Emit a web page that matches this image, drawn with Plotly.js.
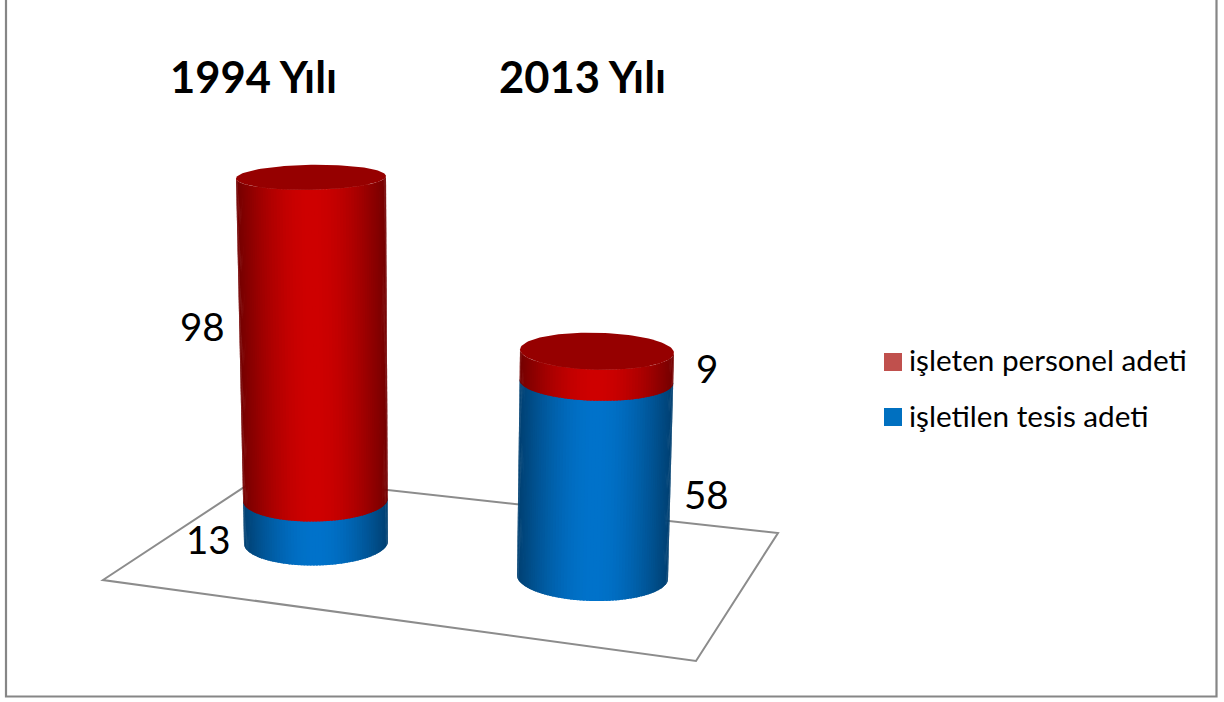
<!DOCTYPE html>
<html><head><meta charset="utf-8">
<script src="https://cdn.plot.ly/plotly-3.0.1.min.js"></script>
<style>html,body{margin:0;padding:0;background:#fff;overflow:hidden}#chart{width:1224px;height:702px}</style>
</head><body><div id="chart"></div>
<script>
// ---- data ----
const years = ["1994 Yılı", "2013 Yılı"];
const seriesNames = ["işletilen tesis adeti", "işleten personel adeti"];
const tesisValues = [13, 58];
const personelValues = [98, 9];

// ---- look of the chart ----
const W = 1224, H = 702;
const sideRGB = [[0, 114, 202], [206, 0, 0]];
const legendColors = ["#0070C0", "#C0504D"];
const capColor = "#960000";
const FONT = "Lato, Carlito, sans-serif";
// cylinder geometry in pixels: the value axis of each cylinder has its own px-per-unit scale (perspective)
const cyl = [
  {axis: "y",  yref: "y",  basePx: 542.5, pxPerUnit: 3.29, cxB: 316,   rB: 72,   cxT: 311, rT: 75, kB: 23, kT: 12.5, tilt: -1.2},
  {axis: "y2", yref: "y2", basePx: 577,   pxPerUnit: 3.37, cxB: 592.5, rB: 75.5, cxT: 597, rT: 77, kB: 24, kT: 18.5, tilt: 1.7}
];
const labelStyle = [
  [{x: 233, anchor: "right", shift: -18}, {x: 227, anchor: "right", shift: 13}],
  [{x: 682, anchor: "left", shift: -15}, {x: 694, anchor: "left", shift: -2}]
];

const traces = [];
const annotations = [];
const STEPS = 72;
const shade = (u, rgb) => {
  const f = 0.56 + 0.44 * Math.max(0, Math.cos(u * Math.PI / 2));
  return "rgb(" + rgb.map(c => Math.round(c * f)).join(",") + ")";
};

years.forEach((yr, i) => {
  const c = cyl[i];
  const vals = [tesisValues[i], personelValues[i]];
  const total = vals[0] + vals[1];
  const toAxis = px => (c.basePx - px) / c.pxPerUnit;
  const cx = v => c.cxB + (c.cxT - c.cxB) * v / total;
  const r = v => c.rB + (c.rT - c.rB) * v / total;
  const k = v => c.kB + (c.kT - c.kB) * v / total;
  const pt = (v, th) => {
    const u = Math.sin(th);
    return [cx(v) + r(v) * u, toAxis(c.basePx - c.pxPerUnit * v + k(v) * Math.cos(th) + c.tilt * u)];
  };
  let start = 0;
  vals.forEach((val, s) => {
    // the plain stacked bar, carrying the value through the axis
    traces.push({type: "bar", x: [c.cxB + (c.cxT - c.cxB) / 2], y: [val], base: [start], width: [110],
      yaxis: c.axis, name: seriesNames[s], showlegend: false, hoverinfo: "skip",
      marker: {color: legendColors[s], line: {width: 0}}});
    // round, shaded side of the bar
    const lo = start, hi = start + val + (s === 0 ? 0.4 : 0);
    for (let j = 0; j < STEPS; j++) {
      const t1 = -Math.PI / 2 + Math.PI * j / STEPS;
      const t2 = -Math.PI / 2 + Math.PI * Math.min(j + 1.6, STEPS) / STEPS;
      const tm = -Math.PI / 2 + Math.PI * (j + 0.5) / STEPS;
      const a = pt(lo, t1), b = pt(lo, t2), d = pt(hi, t2), e = pt(hi, t1);
      traces.push({type: "scatter", mode: "lines", fill: "toself", yaxis: c.axis, hoverinfo: "skip", showlegend: false,
        x: [a[0], b[0], d[0], e[0], a[0]], y: [a[1], b[1], d[1], e[1], a[1]],
        line: {width: 0}, fillcolor: shade(Math.sin(tm), sideRGB[s])});
    }
    const ls = labelStyle[i][s];
    annotations.push({xref: "x", yref: c.yref, x: ls.x, y: start + val / 2, yshift: ls.shift,
      text: String(val), showarrow: false, xanchor: ls.anchor, yanchor: "middle",
      font: {family: FONT, size: 38.5, color: "#000"}});
    start += val;
  });
  // top cap
  const cxs = [], cys = [];
  for (let j = 0; j <= 120; j++) {
    const th = 2 * Math.PI * j / 120;
    const p = pt(total, th);
    cxs.push(p[0]); cys.push(p[1]);
  }
  traces.push({type: "scatter", mode: "lines", fill: "toself", yaxis: c.axis, hoverinfo: "skip", showlegend: false,
    x: cxs, y: cys, line: {width: 0}, fillcolor: capColor});
});

// year headings
const headingPx = [[253.5, 76], [582.5, 76]];
years.forEach((yr, i) => annotations.push({xref: "paper", yref: "paper",
  x: headingPx[i][0] / W, y: 1 - headingPx[i][1] / H, text: "<b>" + yr + "</b>", showarrow: false,
  xanchor: "center", yanchor: "middle", font: {family: FONT, size: 43.5, color: "#000"}}));

// legend, top entry first
const legendRows = [{y: 362, s: 1}, {y: 417, s: 0}];
const shapes = [];
legendRows.forEach(row => {
  shapes.push({type: "rect", xref: "paper", yref: "paper", x0: 884 / W, x1: 902 / W,
    y0: 1 - (row.y - 9) / H, y1: 1 - (row.y + 9) / H, fillcolor: legendColors[row.s], line: {width: 0}});
  annotations.push({xref: "paper", yref: "paper", x: 907 / W, y: 1 - (row.y - 2) / H, text: seriesNames[row.s],
    showarrow: false, xanchor: "left", yanchor: "middle", font: {family: FONT, size: 29.7, color: "#000"}});
});

// floor and outer frame
const yPx = px => (cyl[0].basePx - px) / cyl[0].pxPerUnit;
const path = pts => pts.map((p, i) => (i ? "L" : "M") + p[0] + "," + yPx(p[1])).join(" ");
shapes.push({type: "path", xref: "x", yref: "y", layer: "below",
  path: path([[103, 580], [261, 476], [778, 533], [696, 661]]) + " Z",
  fillcolor: "#ffffff", line: {color: "#8c8c8c", width: 2}});
shapes.push({type: "path", xref: "x", yref: "y", layer: "below",
  path: path([[6, -2], [6, 696.5], [1216.5, 696.5], [1216.5, -2]]),
  line: {color: "#868686", width: 2.2}});

const yr1 = cyl[0], yr2 = cyl[1];
const layout = {
  width: W, height: H, margin: {l: 0, r: 0, t: 0, b: 0}, paper_bgcolor: "#fff", plot_bgcolor: "#fff",
  barmode: "overlay", showlegend: false, hovermode: false,
  xaxis: {range: [0, W], visible: false, fixedrange: true},
  yaxis: {range: [(yr1.basePx - H) / yr1.pxPerUnit, yr1.basePx / yr1.pxPerUnit], visible: false, fixedrange: true},
  yaxis2: {range: [(yr2.basePx - H) / yr2.pxPerUnit, yr2.basePx / yr2.pxPerUnit], visible: false, fixedrange: true, overlaying: "y"},
  annotations, shapes
};
Plotly.newPlot("chart", traces, layout, {displayModeBar: false, staticPlot: true});
</script></body></html>
